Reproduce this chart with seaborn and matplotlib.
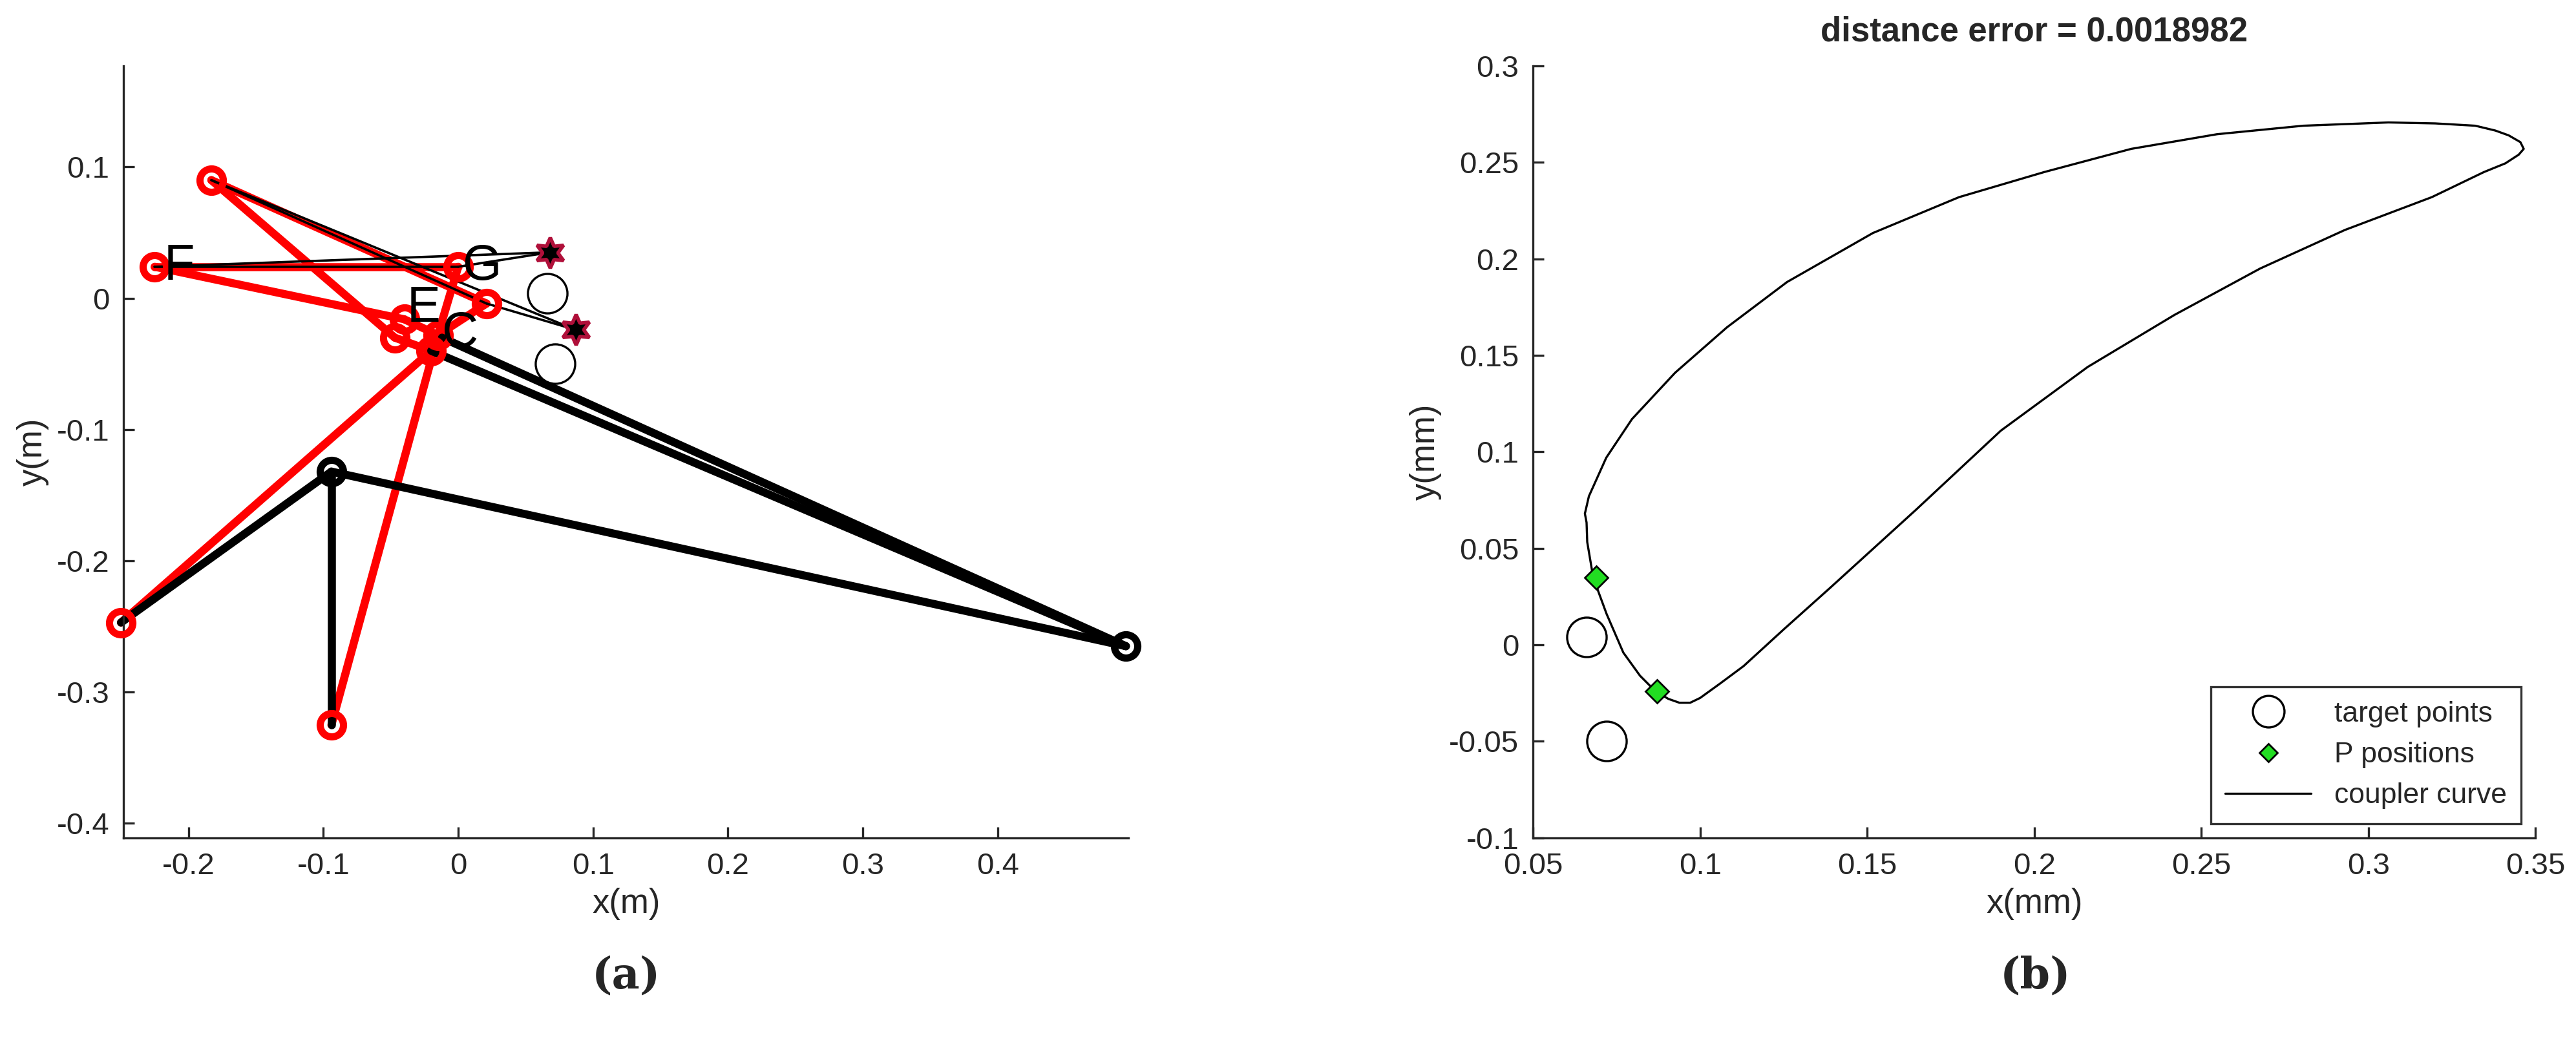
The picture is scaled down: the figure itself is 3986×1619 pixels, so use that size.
import matplotlib
matplotlib.use("Agg")
import matplotlib.pyplot as plt
import seaborn as sns
import numpy as np
import pandas as pd

sns.set_theme(style="white")
plt.rcParams['font.family'] = ['Liberation Sans', 'DejaVu Sans']

# ---- panel (a) data ----
red_joints_x = [-0.183, -0.225, 0.0, 0.021, -0.040, -0.047, -0.015, -0.020, -0.250, -0.094]
red_joints_y = [0.090, 0.024, 0.024, -0.004, -0.016, -0.030, -0.028, -0.040, -0.247, -0.325]
black_joints_x = [-0.094, 0.495]
black_joints_y = [-0.132, -0.265]
star_x = [0.068, 0.087]
star_y = [0.035, -0.024]
target_x = [0.066, 0.072]
target_y = [0.004, -0.050]
red_links = [((-0.225, 0.024), (0.0, 0.024)), ((-0.225, 0.024), (-0.040, -0.016)),
             ((-0.183, 0.090), (-0.047, -0.030)), ((-0.183, 0.090), (0.021, -0.004)),
             ((0.0, 0.024), (-0.015, -0.028)), ((0.021, -0.004), (-0.015, -0.028)),
             ((-0.040, -0.016), (-0.015, -0.028)), ((-0.047, -0.030), (-0.020, -0.040)),
             ((-0.020, -0.040), (-0.250, -0.247)), ((-0.015, -0.028), (-0.094, -0.325))]
black_thick_links = [((-0.250, -0.247), (-0.094, -0.132)), ((-0.094, -0.132), (-0.094, -0.325)),
                     ((-0.094, -0.132), (0.495, -0.265)), ((-0.020, -0.040), (0.495, -0.265)),
                     ((-0.012, -0.030), (0.495, -0.265))]
black_thin_links = [((-0.183, 0.090), (0.021, -0.004)), ((0.021, -0.004), (0.087, -0.024)),
                    ((-0.183, 0.090), (0.087, -0.024)), ((-0.225, 0.024), (0.068, 0.035)),
                    ((0.0, 0.024), (0.068, 0.035)), ((-0.225, 0.024), (0.0, 0.024))]
labels = ["F", "G", "E", "C"]
label_x = [-0.218, 0.003, -0.038, -0.012]
label_y = [0.024, 0.024, -0.008, -0.027]

# ---- panel (b) data ----
curve_x = [0.068, 0.072, 0.077, 0.082, 0.0866, 0.0905, 0.0938, 0.097, 0.100, 0.106, 0.113, 0.125,
           0.139, 0.1646, 0.190, 0.216, 0.242,
           0.2676, 0.293, 0.319, 0.3346, 0.341, 0.345, 0.3465, 0.3455, 0.342, 0.338, 0.332, 0.320,
           0.306, 0.2805, 0.2547,
           0.229, 0.203, 0.1775, 0.1517, 0.126, 0.108, 0.0925, 0.0796, 0.0719, 0.0667,
           0.0655, 0.066, 0.0662, 0.068]
curve_y = [0.0348, 0.016, -0.004, -0.016, -0.024, -0.028, -0.030, -0.030, -0.0275, -0.020, -0.011,
           0.008, 0.0297, 0.070, 0.111, 0.144, 0.171,
           0.195, 0.215, 0.232, 0.245, 0.2495, 0.254, 0.257, 0.2605, 0.264, 0.2665, 0.269, 0.2702,
           0.2707, 0.269, 0.2646,
           0.257, 0.245, 0.232, 0.2134, 0.188, 0.1645, 0.141, 0.117, 0.097, 0.077,
           0.068, 0.0634, 0.0533, 0.0348]
p_x = [0.069, 0.087]
p_y = [0.035, -0.024]
tgt_b_x = [0.066, 0.072]
tgt_b_y = [0.004, -0.050]

fig = plt.figure(figsize=(19.935, 8.095), dpi=200)
ax1 = fig.add_axes([0.048, 0.199, 0.39, 0.738])
ax2 = fig.add_axes([0.595, 0.199, 0.389, 0.738])

# panel a
for (a, b) in red_links:
    sns.lineplot(x=[a[0], b[0]], y=[a[1], b[1]], ax=ax1, color='red', lw=4.5, sort=False, estimator=None, clip_on=False)
for (a, b) in black_thick_links:
    sns.lineplot(x=[a[0], b[0]], y=[a[1], b[1]], ax=ax1, color='black', lw=4.5, sort=False, estimator=None, clip_on=False)
for (a, b) in black_thin_links:
    sns.lineplot(x=[a[0], b[0]], y=[a[1], b[1]], ax=ax1, color='black', lw=1.3, sort=False, estimator=None, clip_on=False)
ax1.plot(red_joints_x, red_joints_y, 'o', ms=13, mfc='none', mec='red', mew=4, zorder=5, clip_on=False)
ax1.plot(black_joints_x, black_joints_y, 'o', ms=13, mfc='none', mec='black', mew=4, zorder=5, clip_on=False)
ax1.plot(star_x, star_y, marker=(6, 1, 0), ls='none', ms=17, mfc='black', mec='#b0103a', mew=2, zorder=6)
ax1.plot(target_x, target_y, 'o', ms=22, mfc='white', mec='black', mew=1.2, zorder=4)
for t, x, y in zip(labels, label_x, label_y):
    ax1.text(x, y, t, fontsize=28, va='center', ha='left', color='black', zorder=7)
ax1.set_xlim(-0.248, 0.497)
ax1.set_ylim(-0.411, 0.177)
ax1.set_xticks([-0.2, -0.1, 0, 0.1, 0.2, 0.3, 0.4])
ax1.set_xticklabels(['-0.2', '-0.1', '0', '0.1', '0.2', '0.3', '0.4'])
ax1.set_yticks([-0.4, -0.3, -0.2, -0.1, 0, 0.1])
ax1.set_yticklabels(['-0.4', '-0.3', '-0.2', '-0.1', '0', '0.1'])
ax1.set_xlabel('x(m)', fontsize=19)
ax1.set_ylabel('y(m)', fontsize=19)

# panel b
ax2.plot(tgt_b_x, tgt_b_y, 'o', ms=22, mfc='white', mec='black', mew=1.2, label='target points', ls='none')
ax2.plot(p_x, p_y, 'D', ms=9, mfc='#22dd22', mec='black', mew=1, label='P positions', ls='none', zorder=5)
sns.lineplot(x=curve_x, y=curve_y, ax=ax2, color='black', lw=1.2, sort=False, estimator=None, label='coupler curve')
ax2.set_xlim(0.05, 0.35)
ax2.set_ylim(-0.1, 0.3)
ax2.set_xticks([0.05, 0.1, 0.15, 0.2, 0.25, 0.3, 0.35])
ax2.set_xticklabels(['0.05', '0.1', '0.15', '0.2', '0.25', '0.3', '0.35'])
ax2.set_yticks([-0.1, -0.05, 0, 0.05, 0.1, 0.15, 0.2, 0.25, 0.3])
ax2.set_yticklabels(['-0.1', '-0.05', '0', '0.05', '0.1', '0.15', '0.2', '0.25', '0.3'])
ax2.set_xlabel('x(mm)', fontsize=19)
ax2.set_ylabel('y(mm)', fontsize=19)
ax2.set_title('distance error = 0.0018982', fontsize=19, fontweight='bold', pad=14)
leg = ax2.legend(loc='lower right', fontsize=16, frameon=True, fancybox=False, edgecolor='black',
                 markerscale=0.8, borderpad=0.5, handlelength=3)
leg.get_frame().set_linewidth(1.2)

for ax in (ax1, ax2):
    ax.spines['top'].set_visible(False)
    ax.spines['right'].set_visible(False)
    for s in ('left', 'bottom'):
        ax.spines[s].set_color('#262626')
        ax.spines[s].set_linewidth(1.2)
    ax.tick_params(axis='both', direction='in', length=6, width=1.2, labelsize=17,
                   colors='#262626', left=True, bottom=True, pad=8)

fig.text(0.243, 0.055, '(a)', fontsize=24, fontweight='bold', family='DejaVu Serif', ha='center')
fig.text(0.79, 0.055, '(b)', fontsize=24, fontweight='bold', family='DejaVu Serif', ha='center')

fig.savefig('out.png', dpi=200, facecolor='white')
